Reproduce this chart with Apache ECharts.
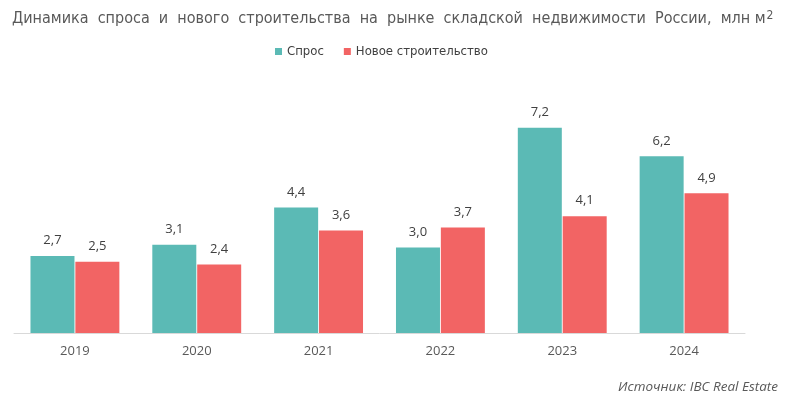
<!DOCTYPE html>
<html>
<head>
<meta charset="utf-8">
<script src="https://cdn.jsdelivr.net/npm/echarts@6/dist/echarts.min.js"></script>
<style>
  html, body { margin: 0; padding: 0; background: #fff; }
  #chart { width: 792px; height: 397px; }
</style>
</head>
<body>
<div id="chart"></div>
<script type="text/javascript">
var years = ['2019', '2020', '2021', '2022', '2023', '2024'];
var demand = [2.7, 3.1, 4.4, 3.0, 7.2, 6.2];
var newBuild = [2.5, 2.4, 3.6, 3.7, 4.1, 4.9];
var seriesNames = ['Спрос', 'Новое строительство'];

var condensed = "'DejaVu Sans Condensed', 'Open Sans', sans-serif";
var chart = echarts.init(document.getElementById('chart'));
var labelOpt = {
    show: true,
    position: 'top',
    distance: 9,
    color: '#404040',
    fontSize: 13,
    fontFamily: 'Open Sans',
    formatter: function (p) { return p.value.toFixed(1).replace('.', ','); }
};
var option = {
    animation: false,
    textStyle: { fontFamily: 'Open Sans' },
    title: [{
        text: 'Динамика  спроса  и  нового  строительства  на  рынке  складской  недвижимости  России,  млн м{sup|2}',
        left: 7,
        top: 5,
        textStyle: {
            color: '#595959', fontSize: 16, fontWeight: 'normal', fontFamily: condensed,
            rich: { sup: { fontSize: 12, color: '#595959', fontFamily: condensed, verticalAlign: 'top', padding: [0, 0, 6, 1] } }
        }
    }, {
        text: 'Источник: IBC Real Estate',
        right: 9,
        top: 375,
        textStyle: { color: '#595959', fontSize: 13.5, fontWeight: 'normal', fontStyle: 'italic', fontFamily: 'Open Sans' }
    }],
    legend: {
        data: seriesNames,
        left: 270,
        top: 40,
        itemWidth: 7,
        itemHeight: 7,
        itemGap: 20,
        icon: 'rect',
        textStyle: { color: '#404040', fontSize: 13, fontFamily: condensed }
    },
    grid: { left: 14, right: 47, top: 105, bottom: 64 },
    xAxis: {
        type: 'category',
        data: years,
        axisLine: { lineStyle: { color: '#d9d9d9', width: 1 } },
        axisTick: { show: false },
        axisLabel: { color: '#595959', fontSize: 13, margin: 12 }
    },
    yAxis: {
        type: 'value',
        min: 0,
        max: 8,
        show: false,
        splitLine: { show: false }
    },
    series: [{
        name: seriesNames[0],
        type: 'bar',
        data: demand,
        barWidth: 44,
        barGap: '2%',
        itemStyle: { color: '#5BBAB5' },
        label: labelOpt
    }, {
        name: seriesNames[1],
        type: 'bar',
        data: newBuild,
        barWidth: 44,
        itemStyle: { color: '#F26464' },
        label: labelOpt
    }]
};
chart.setOption(option);
</script>
</body>
</html>
